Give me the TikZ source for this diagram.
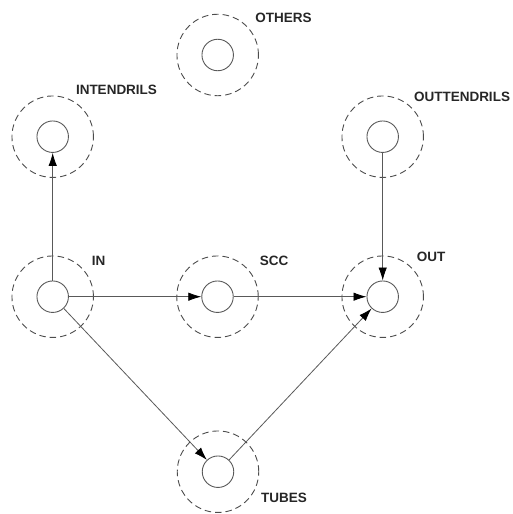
\documentclass[tikz,border=0pt]{standalone}
\usepackage{fontspec}
\setmainfont{Liberation Sans}
\usetikzlibrary{arrows.meta}

\begin{document}
\begin{tikzpicture}[
		x=1pt, y=-1pt,
		core/.style={
			circle,
			draw=black!65,
			line width=0.9pt,
			minimum size=31.5pt,
			inner sep=0pt
			},
		zone/.style={
			circle,
			draw=black!70,
			line width=0.9pt,
			dash pattern=on 6.5pt off 4pt,
			minimum size=81.5pt,
			inner sep=0pt
			},
		lbl/.style={
			font=\fontsize{13.5}{16}\selectfont\bfseries,
			text=black!85,
			inner sep=0pt
			},
		flow/.style={
			draw=black!65,
			line width=0.8pt,
			-{Latex[length=13pt,width=8.5pt,color=black]}
			}
		]

		\useasboundingbox (0,0) rectangle (512,514);

		% components
		\node[core] (in) at (52.7,296.7) {};
		\node[core] (scc) at (217.5,296.7) {};
		\node[core] (out) at (382.7,296.7) {};
		\node[core] (intendrils) at (52.7,136.7) {};
		\node[core] (outtendrils) at (382.7,136.7) {};
		\node[core] (others) at (217.7,55) {};
		\node[core] (tubes) at (218,471.7) {};

		\foreach \n in {in,scc,out,intendrils,outtendrils,others,tubes}
			\node[zone] (\n-zone) at (\n) {};

		% labels
		\path (98.5,261) node[lbl] (in-lbl) {IN};
		\path (274,261) node[lbl] (scc-lbl) {SCC};
		\path (431,257) node[lbl] (out-lbl) {OUT};
		\path (116.5,89.5) node[lbl] (intendrils-lbl) {INTENDRILS};
		\path (462,96.5) node[lbl] (outtendrils-lbl) {OUTTENDRILS};
		\path (283.5,17.5) node[lbl] (others-lbl) {OTHERS};
		\path (284,497.5) node[lbl] (tubes-lbl) {TUBES};

		% connectors
		\draw[flow] (in) -- (intendrils);
		\draw[flow] (in) -- (scc);
		\draw[flow] (scc) -- (out);
		\draw[flow] (outtendrils) -- (out);
		\draw[flow] (in) -- (tubes);
		\draw[flow] (tubes) -- (out);
	\end{tikzpicture}
\end{document}
